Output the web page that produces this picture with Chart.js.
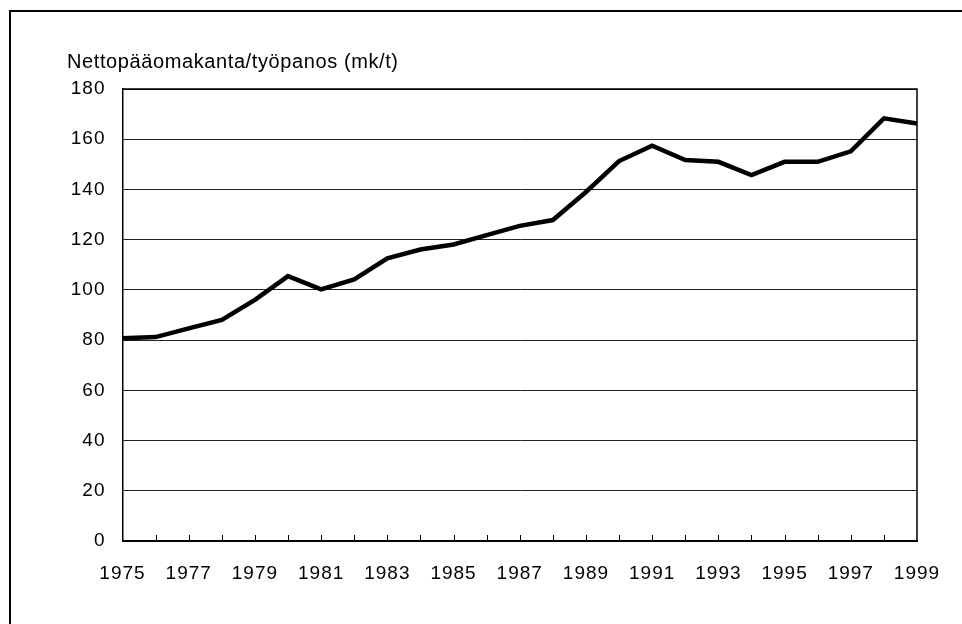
<!DOCTYPE html>
<html>
<head>
<meta charset="utf-8">
<script src="https://cdn.jsdelivr.net/npm/chart.js@4.4.1/dist/chart.umd.min.js"></script>
<style>
    html, body { margin: 0; padding: 0; background: #fff; overflow: hidden; }
    #wrap { position: relative; width: 962px; height: 624px; }
    #frame { position: absolute; left: 9px; top: 10px; width: 1000px; height: 700px; border-left: 2px solid #000; border-top: 2px solid #000; box-sizing: border-box; }
    canvas { position: absolute; left: 0; top: 0; }
</style>
</head>
<body>
<div id="wrap">
    <div id="frame"></div>
    <canvas id="chart" width="962" height="624"></canvas>
</div>
<script>
const years = ['1975','1976','1977','1978','1979','1980','1981','1982','1983','1984','1985','1986',
               '1987','1988','1989','1990','1991','1992','1993','1994','1995','1996','1997','1998','1999'];
const capitalPerLabour = [80.7, 81.2, 84.7, 88.0, 96.0, 105.5, 100.2, 104.2, 112.6, 116.1, 118.1, 121.8,
                          125.5, 127.8, 139.0, 151.3, 157.4, 151.7, 151.0, 145.7, 151.0, 151.0, 155.2, 168.3, 166.3];
const yTitle = 'Nettopääomakanta/työpanos (mk/t)';

const FONT = "'Liberation Sans', Arial, sans-serif";

// title above the y labels, plot border and inward tick marks
const extras = {
    id: 'extras',
    beforeDraw(chart) {
        // the original text is set a little loose
        chart.ctx.letterSpacing = '1px';
    },
    afterDraw(chart) {
        const ctx = chart.ctx;
        const area = chart.chartArea;
        const xs = chart.scales.x;
        ctx.save();
        ctx.strokeStyle = '#000';
        ctx.lineWidth = 1.5;
        ctx.beginPath();
        ctx.moveTo(area.left, area.top);
        ctx.lineTo(area.right, area.top);
        ctx.lineTo(area.right, area.bottom);
        ctx.stroke();

        ctx.lineWidth = 1;
        ctx.beginPath();
        for (let i = 1; i < years.length - 1; i++) {
            const x = Math.round(xs.getPixelForValue(i)) + 0.5;
            ctx.moveTo(x, area.bottom);
            ctx.lineTo(x, area.bottom - 6);
        }
        ctx.stroke();

        ctx.fillStyle = '#000';
        ctx.font = '20px ' + FONT;
        ctx.letterSpacing = '0.6px';
        ctx.textAlign = 'left';
        ctx.textBaseline = 'alphabetic';
        ctx.fillText(yTitle, 67, 68);
        ctx.restore();
    }
};

new Chart(document.getElementById('chart'), {
    type: 'line',
    data: {
        labels: years,
        datasets: [
            { label: yTitle, data: capitalPerLabour, borderColor: '#000', borderWidth: 4.5, pointRadius: 0, tension: 0, fill: false, clip: false }
        ]
    },
    options: {
        responsive: false,
        animation: false,
        layout: { padding: { top: 89, right: 45, bottom: 0, left: 0 } },
        plugins: { legend: { display: false }, tooltip: { enabled: false } },
        scales: {
            x: {
                offset: false,
                afterFit: s => { s.height = 83; },
                grid: { drawOnChartArea: false, drawTicks: false },
                border: { color: '#000', width: 2 },
                ticks: {
                    autoSkip: false, maxRotation: 0, padding: 21, color: '#000',
                    font: { family: FONT, size: 19 },
                    callback: (v, i) => i % 2 === 0 ? years[i] : ''
                }
            },
            y: {
                min: 0, max: 180,
                afterFit: s => { s.width = 122.5; },
                grid: { color: '#222', lineWidth: 1, drawTicks: false },
                border: { color: '#000', width: 1.5 },
                ticks: { stepSize: 20, padding: 17, color: '#000', font: { family: FONT, size: 19 } }
            }
        }
    },
    plugins: [extras]
});
</script>
</body>
</html>
